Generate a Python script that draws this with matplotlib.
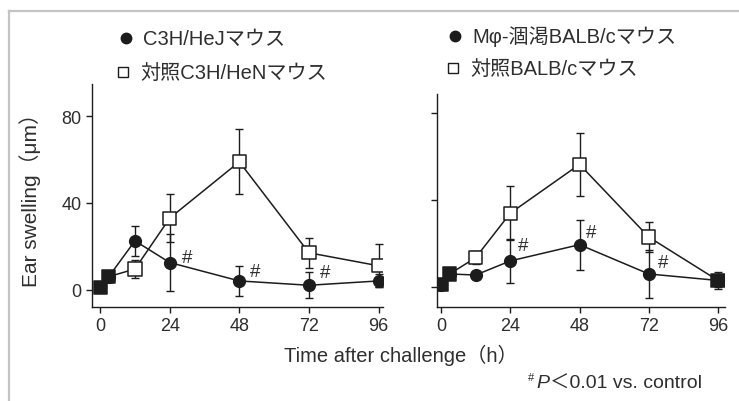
import matplotlib
matplotlib.use("Agg")
import matplotlib.pyplot as plt
from matplotlib.lines import Line2D

plt.rcParams['font.family'] = ['Liberation Sans', 'Noto Sans CJK JP', 'DejaVu Sans']

# time points (h)
hours = [0, 3, 12, 24, 48, 72, 96]

# C3H/HeJ vs control C3H/HeN
hej_mean = [1, 6, 22.5, 12.5, 4, 2, 4]
hej_err = [1, 2, 7, 13, 7, 6, 3]
hen_mean = [1, 6, 9.5, 33, 59, 17, 11]
hen_err = [1, 2, 4, 11, 15, 7, 10]

# macrophage-depleted BALB/c vs control BALB/c
dep_mean = [1, 6, 5.5, 12, 19.5, 6, 3]
dep_err = [1, 2, 2, 10, 11.5, 11, 3]
ctl_mean = [1, 6, 13.5, 34, 56.5, 23, 3]
ctl_err = [1, 2, 3, 12.5, 14.5, 7, 4]

# time points flagged as significant
sig_left = [24, 48, 72]
sig_right = [24, 48, 72]

x_ticks = [0, 24, 48, 72, 96]
y_ticks = [0, 40, 80]

ink = '#1c1c1c'
txt = '#2e2e2e'

fig = plt.figure(figsize=(7.39, 4.02), dpi=100)
ax1 = fig.add_axes([0.1245, 0.234, 0.394, 0.555])
ax2 = fig.add_axes([0.5913, 0.234, 0.3897, 0.530])


def draw_panel(ax, ctrl_m, ctrl_e, test_m, test_e, sig, offsets):
    ax.errorbar(hours, ctrl_m, yerr=ctrl_e, color=ink, lw=1.1, capsize=3,
                elinewidth=1.0, capthick=1.0, zorder=2)
    # where both groups coincide the markers merge into a solid square
    faces = [ink if c == t else 'white' for c, t in zip(ctrl_m, test_m)]
    ax.scatter(hours, ctrl_m, marker='s', s=90, facecolors=faces,
               edgecolors=ink, linewidths=1.1, zorder=4)
    ax.errorbar(hours, test_m, yerr=test_e, color=ink, lw=1.1, marker='o',
                ms=8.5, mfc=ink, mec=ink, capsize=3,
                elinewidth=1.0, capthick=1.0, zorder=3)
    for t, off in zip(sig, offsets):
        i = hours.index(t)
        ax.annotate('#', xy=(t, test_m[i]), xytext=off,
                    textcoords='offset pixels', ha='center', va='center',
                    fontsize=13.5, color=txt)
    for s in ['top', 'right']:
        ax.spines[s].set_visible(False)
    for s in ['left', 'bottom']:
        ax.spines[s].set_color(ink)
        ax.spines[s].set_linewidth(1.0)
    ax.set_xticks(x_ticks)
    ax.set_yticks(y_ticks)
    ax.tick_params(direction='out', length=4, width=1.0, color=ink,
                   labelsize=13, labelcolor=txt)


draw_panel(ax1, hen_mean, hen_err, hej_mean, hej_err, sig_left,
           [(17, 5), (16, 9), (16, 13)])
draw_panel(ax2, ctl_mean, ctl_err, dep_mean, dep_err, sig_right,
           [(13, 15), (12, 12), (14, 11)])

ax1.set_xlim(-2.8, 97.6)
ax1.set_ylim(-8, 95)
ax2.set_xlim(-1.4, 98.4)
ax2.set_ylim(-9.2, 89)
ax2.set_yticklabels([])


def px(x, y):
    return x / 739, 1 - y / 402


# legends above each panel
legend_items = [
    ((126, 39), 'o', ink, 'C3H/HeJマウス'),
    ((123, 73), 's', 'white', '対照C3H/HeNマウス'),
    ((455, 37), 'o', ink, 'Mφ-涸渇BALB/cマウス'),
    ((453, 69), 's', 'white', '対照BALB/cマウス'),
]
for (x, y), mk, fc, label in legend_items:
    fx, fy = px(x, y)
    fig.add_artist(Line2D([fx], [fy], transform=fig.transFigure, marker=mk,
                          ms=7.5 if mk == 'o' else 7, mfc=fc, mec=ink,
                          mew=1.0, ls='none'))
    tx, _ = px(x + 17, y)
    fig.text(tx, fy, label, fontsize=14.5, color=txt, va='center', ha='left')

fig.text(*px(30, 195), 'Ear swelling（μm）', rotation=90, fontsize=15,
         color=txt, ha='center', va='center')
fig.text(*px(401, 355), 'Time after challenge（h）', fontsize=14.5,
         color=txt, ha='center', va='center')

# footnote
fig.text(*px(528, 378), '#', fontsize=8, color=txt, ha='left', va='center')
fig.text(*px(536, 384), 'P', fontsize=14, style='italic', color=txt,
         ha='left', va='center')
fig.text(*px(550, 384), '＜0.01 vs. control', fontsize=14, color=txt,
         ha='left', va='center')

# thin frame on the left and top
fig.add_artist(Line2D([px(9, 0)[0], px(9, 402)[0]], [px(0, 12)[1], 0],
                      transform=fig.transFigure, color='#c4c4c4', lw=1.6))
fig.add_artist(Line2D([px(9, 0)[0], 1], [px(0, 12)[1], px(0, 12)[1]],
                      transform=fig.transFigure, color='#c4c4c4', lw=1.6))

fig.savefig('out.png', dpi=100, facecolor='white')
